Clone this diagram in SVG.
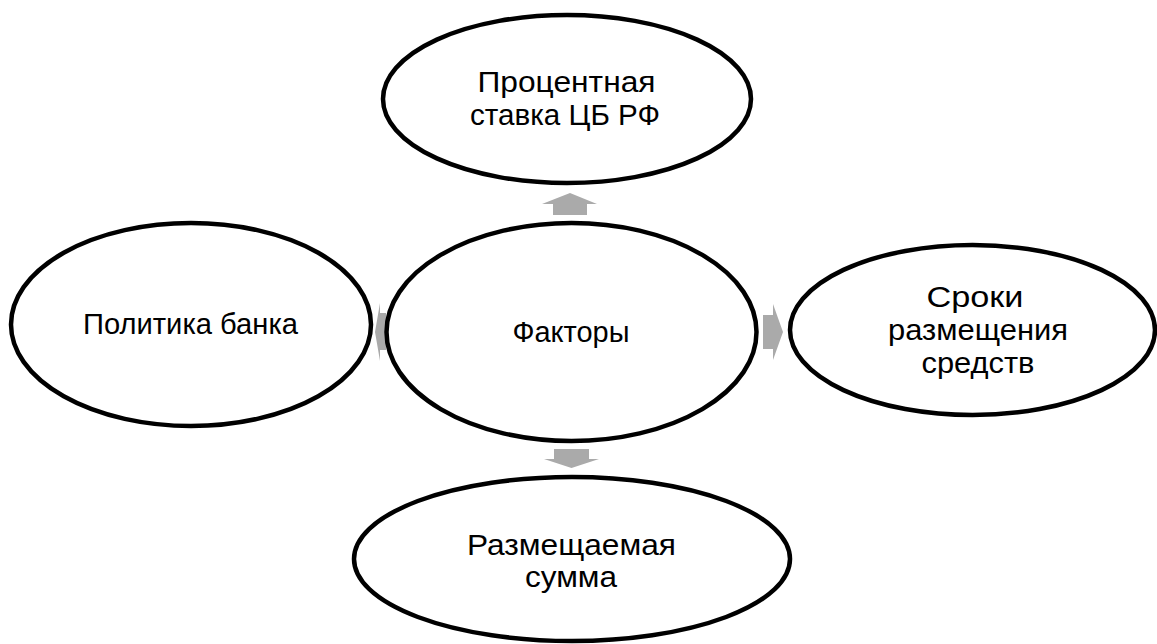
<svg xmlns="http://www.w3.org/2000/svg" width="1157" height="644" viewBox="0 0 1157 644">
<style>
.node ellipse{fill:#ffffff;stroke:#000000;stroke-width:4.5}
.node text{font-family:"Liberation Sans",Arial,sans-serif;font-size:29px;fill:#000000;text-anchor:middle}
.conn path{fill:#aaaaaa;stroke:none}
</style>
<rect width="1157" height="644" fill="#ffffff"/>
<g id="connectors" class="conn">
<path d="M553,215 L553,204 L542,204 L570,193 L597,204 L587,204 L587,215 Z"/>
<path d="M554,449 L589,449 L589,459 L599,459 L571.5,468 L544,459 L554,459 Z"/>
<path d="M763,315 L773,315 L773,304 L783,332 L773,360 L773,349 L763,349 Z"/>
<path d="M386,313 L380,313 L380,303 L375,332 L380,361 L380,350 L386,350 Z"/>
</g>
<g id="node-top" class="node">
<ellipse cx="567" cy="99" rx="184" ry="84"/>
<text x="566.5" y="92" textLength="178" lengthAdjust="spacingAndGlyphs">Процентная</text>
<text x="565" y="125" textLength="190" lengthAdjust="spacingAndGlyphs">ставка ЦБ РФ</text>
</g>
<g id="node-center" class="node">
<ellipse cx="571.5" cy="332" rx="185" ry="109"/>
<text x="571" y="342" textLength="117" lengthAdjust="spacingAndGlyphs">Факторы</text>
</g>
<g id="node-left" class="node">
<ellipse cx="191" cy="324.5" rx="180" ry="101.5"/>
<text x="190.5" y="334" textLength="215" lengthAdjust="spacingAndGlyphs">Политика банка</text>
</g>
<g id="node-right" class="node">
<ellipse cx="972.5" cy="330" rx="182.5" ry="85"/>
<text x="975" y="307" textLength="97" lengthAdjust="spacingAndGlyphs">Сроки</text>
<text x="978" y="340" textLength="180" lengthAdjust="spacingAndGlyphs">размещения</text>
<text x="978" y="373" textLength="113" lengthAdjust="spacingAndGlyphs">средств</text>
</g>
<g id="node-bottom" class="node">
<ellipse cx="572" cy="559" rx="218" ry="82"/>
<text x="571.5" y="555" textLength="209" lengthAdjust="spacingAndGlyphs">Размещаемая</text>
<text x="571" y="587" textLength="92" lengthAdjust="spacingAndGlyphs">сумма</text>
</g>
</svg>
